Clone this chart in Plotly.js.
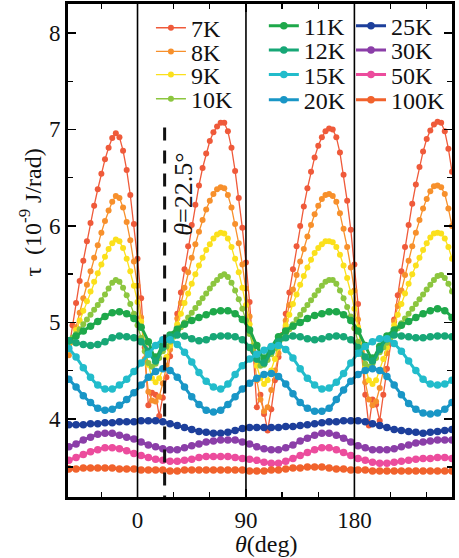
<!DOCTYPE html>
<html>
<head>
<meta charset="utf-8">
<script src="https://cdn.plot.ly/plotly-3.0.1.min.js"></script>
<style>
html,body{margin:0;padding:0;background:#ffffff;}
#chart{width:459px;height:558px;}
</style>
</head>
<body>
<div id="chart"></div>
<script>
// ---------------- DATA ----------------
// angle grid (deg) of the low-temperature scans (dotted curves)
const thetaFine = [-57,-54,-51,-48,-45,-42,-39,-36,-33,-30,-27,-24,-21,-18,-15,-12,-9,-6,-3,0,
  3,6,9,12,15,18,21,24,27,30,33,36,39,42,45,48,51,54,57,60,63,66,69,72,75,78,81,84,87,90,
  93,96,99,102,105,108,111,114,117,120,123,126,129,132,135,138,141,144,147,150,153,156,159,162,165,168,171,174,177,180,
  183,186,189,192,195,198,201,204,207,210,213,216,219,222,225,228,231,234,237,240,243,246,249,252,255,258,261];
// angle grid (deg) of the higher-temperature scans (dense curves)
const thetaCoarse = [-57,-51,-45,-39,-33,-27,-21,-15,-9,-3,3,9,15,21,27,33,39,45,51,57,63,69,75,81,87,
  93,99,105,111,117,123,129,135,141,147,153,159,165,171,177,183,189,195,201,207,213,219,225,231,237,243,249,255,261];

// torque tau (1e-9 J/rad)
const tau7K = [4.72,4.97,5.20,5.43,5.64,5.84,6.03,6.21,6.38,6.54,6.69,6.81,6.91,6.96,6.92,6.78,6.58,6.32,6.02,5.66,
  5.25,4.74,4.14,4.27,4.25,4.03,4.22,4.43,4.65,4.87,5.09,5.31,5.55,5.79,6.01,6.22,6.42,6.60,6.75,6.88,6.97,7.03,7.07,7.07,6.98,6.81,6.57,6.29,5.98,5.62,
  5.21,4.70,4.12,4.25,4.05,3.88,4.10,4.40,4.64,4.87,5.09,5.31,5.55,5.79,6.00,6.20,6.39,6.56,6.71,6.83,6.92,6.98,7.01,7.00,6.92,6.76,6.53,6.26,5.96,5.60,
  5.19,4.68,4.25,3.93,4.20,4.15,3.98,4.25,4.52,4.78,5.03,5.28,5.53,5.78,6.01,6.23,6.43,6.61,6.77,6.90,6.99,7.05,7.08,7.07,6.98,6.80,6.56];
const tau8K = [4.66,4.80,4.95,5.10,5.25,5.39,5.53,5.67,5.80,5.93,6.05,6.16,6.25,6.31,6.29,6.19,6.04,5.85,5.63,5.38,
  5.05,4.62,4.28,4.19,4.18,4.23,4.37,4.55,4.72,4.88,5.04,5.20,5.36,5.52,5.67,5.81,5.94,6.06,6.17,6.26,6.33,6.38,6.40,6.39,6.32,6.19,6.02,5.82,5.60,5.35,
  5.06,4.73,4.40,4.20,4.08,4.12,4.30,4.50,4.68,4.86,5.02,5.18,5.34,5.49,5.63,5.76,5.89,6.01,6.12,6.21,6.28,6.32,6.33,6.31,6.25,6.13,5.97,5.78,5.57,5.33,
  5.03,4.70,4.38,4.20,4.14,4.18,4.32,4.50,4.68,4.85,5.01,5.17,5.33,5.49,5.64,5.79,5.93,6.06,6.18,6.28,6.36,6.41,6.42,6.40,6.33,6.18,6.00];
const tau9K = [4.72,4.82,4.92,5.02,5.12,5.22,5.32,5.42,5.51,5.60,5.68,5.76,5.82,5.86,5.84,5.77,5.66,5.53,5.38,5.21,
  5.01,4.78,4.56,4.42,4.38,4.42,4.52,4.64,4.76,4.87,4.98,5.09,5.20,5.30,5.40,5.50,5.59,5.67,5.75,5.81,5.87,5.91,5.93,5.92,5.87,5.78,5.66,5.52,5.36,5.18,
  4.98,4.76,4.55,4.42,4.36,4.40,4.50,4.62,4.74,4.86,4.97,5.08,5.19,5.29,5.39,5.48,5.57,5.65,5.72,5.77,5.81,5.84,5.84,5.83,5.78,5.70,5.59,5.46,5.31,5.14,
  4.95,4.74,4.54,4.40,4.36,4.40,4.50,4.62,4.74,4.86,4.97,5.08,5.19,5.30,5.40,5.50,5.59,5.67,5.75,5.82,5.88,5.92,5.93,5.92,5.87,5.78,5.66];
const tau10K = [4.80,4.84,4.88,4.93,4.98,5.03,5.08,5.13,5.18,5.23,5.29,5.35,5.41,5.44,5.42,5.36,5.28,5.19,5.09,4.97,
  4.84,4.70,4.58,4.54,4.57,4.63,4.70,4.75,4.80,4.85,4.90,4.95,5.00,5.05,5.10,5.15,5.20,5.25,5.30,5.35,5.40,5.44,5.48,5.50,5.47,5.41,5.33,5.24,5.14,5.02,
  4.88,4.74,4.61,4.55,4.56,4.61,4.67,4.73,4.78,4.83,4.88,4.93,4.98,5.03,5.08,5.13,5.18,5.23,5.28,5.33,5.38,5.42,5.44,5.44,5.40,5.33,5.25,5.16,5.06,4.94,
  4.80,4.67,4.57,4.54,4.57,4.63,4.69,4.74,4.79,4.84,4.89,4.94,4.99,5.04,5.09,5.14,5.19,5.24,5.29,5.34,5.39,5.44,5.48,5.49,5.46,5.40,5.32];
const tau11K = [4.81,4.86,4.91,4.96,5.01,5.06,5.10,5.11,5.09,5.04,4.95,4.80,4.64,4.77,4.87,4.93,4.98,5.02,5.05,5.08,5.11,5.12,5.12,5.09,5.03,
  4.92,4.76,4.63,4.74,4.85,4.91,4.96,5.00,5.04,5.07,5.09,5.11,5.11,5.08,5.02,4.91,4.76,4.63,4.75,4.86,4.92,4.97,5.01,5.05,5.09,5.12,5.14,5.12,5.05];
const tau12K = [4.81,4.79,4.77,4.76,4.77,4.80,4.84,4.86,4.85,4.84,4.80,4.70,4.60,4.74,4.85,4.87,4.86,4.83,4.81,4.82,4.85,4.86,4.86,4.85,4.82,
  4.74,4.62,4.58,4.70,4.80,4.84,4.86,4.85,4.83,4.82,4.83,4.85,4.86,4.85,4.82,4.74,4.64,4.60,4.72,4.83,4.87,4.86,4.85,4.84,4.84,4.85,4.86,4.86,4.85];
const tau15K = [4.73,4.64,4.53,4.43,4.35,4.31,4.31,4.35,4.41,4.49,4.58,4.67,4.76,4.82,4.82,4.77,4.69,4.59,4.48,4.39,4.33,4.31,4.36,4.46,4.55,
  4.62,4.67,4.71,4.75,4.76,4.72,4.63,4.52,4.42,4.35,4.31,4.32,4.38,4.47,4.58,4.68,4.75,4.80,4.83,4.83,4.78,4.70,4.60,4.50,4.41,4.36,4.35,4.36,4.40];
const tau20K = [4.41,4.33,4.24,4.17,4.11,4.09,4.10,4.14,4.20,4.27,4.35,4.43,4.49,4.52,4.50,4.43,4.33,4.23,4.15,4.09,4.07,4.09,4.15,4.23,4.31,
  4.37,4.42,4.46,4.47,4.44,4.36,4.26,4.17,4.11,4.08,4.08,4.11,4.20,4.30,4.39,4.46,4.50,4.52,4.50,4.44,4.35,4.25,4.16,4.10,4.06,4.05,4.06,4.10,4.17];
const tau25K = [3.94,3.94,3.94,3.95,3.95,3.96,3.96,3.97,3.97,3.97,3.98,3.98,3.98,3.97,3.95,3.93,3.91,3.89,3.87,3.86,3.85,3.85,3.86,3.88,3.90,
  3.91,3.91,3.91,3.91,3.91,3.92,3.92,3.93,3.94,3.95,3.96,3.97,3.97,3.98,3.98,3.98,3.97,3.95,3.93,3.91,3.89,3.88,3.87,3.86,3.85,3.86,3.87,3.88,3.89];
const tau30K = [3.71,3.74,3.78,3.81,3.84,3.85,3.85,3.83,3.81,3.79,3.76,3.73,3.71,3.69,3.68,3.68,3.70,3.72,3.74,3.76,3.77,3.78,3.78,3.78,3.76,
  3.74,3.71,3.69,3.68,3.68,3.70,3.73,3.77,3.80,3.83,3.85,3.85,3.83,3.80,3.76,3.72,3.70,3.68,3.68,3.68,3.69,3.71,3.73,3.75,3.76,3.77,3.78,3.78,3.78];
const tau50K = [3.57,3.60,3.63,3.66,3.68,3.70,3.70,3.69,3.67,3.64,3.62,3.60,3.58,3.57,3.56,3.56,3.57,3.58,3.60,3.61,3.61,3.61,3.61,3.60,3.59,
  3.58,3.57,3.55,3.54,3.54,3.56,3.59,3.62,3.65,3.68,3.70,3.70,3.68,3.65,3.62,3.59,3.57,3.55,3.54,3.54,3.55,3.56,3.57,3.58,3.59,3.59,3.60,3.60,3.59];
const tau100K = [3.48,3.48,3.49,3.49,3.49,3.49,3.49,3.48,3.48,3.48,3.47,3.47,3.47,3.47,3.46,3.46,3.47,3.47,3.47,3.47,3.47,3.47,3.47,3.47,3.47,
  3.46,3.46,3.46,3.47,3.47,3.48,3.49,3.49,3.50,3.50,3.50,3.49,3.48,3.48,3.47,3.47,3.47,3.46,3.46,3.46,3.46,3.46,3.46,3.46,3.46,3.46,3.46,3.46,3.46];

const seriesNames = ['7K','8K','9K','10K','11K','12K','15K','20K','25K','30K','50K','100K'];
const seriesValues = [tau7K,tau8K,tau9K,tau10K,tau11K,tau12K,tau15K,tau20K,tau25K,tau30K,tau50K,tau100K];
const xTickVals = [0,90,180];
const xTickText = ['0','90','180'];
const yTickVals = [4,5,6,7,8];
const yTickText = ['4','5','6','7','8'];
const markerAngle = 22.5;     // dashed marker line position (deg)
const markerTop = 7.02;       // top of the dashed marker line (tau)
const guideAngles = [0,90,180];

// ---------------- STYLE ----------------
const colors = ['#ef5a3a','#f7902c','#fbe01c','#8cc63f','#1ea84a','#17a776','#22bccb','#1996c6','#1d3f9b','#8b3ea8','#ec4c9d','#f1622c'];
const FONT = "'Liberation Serif', 'DejaVu Serif', serif";
// legend cell placement (paper coords): column x, row y (centre)
const legCol = [0.216, 0.216, 0.216, 0.216, 0.510, 0.510, 0.510, 0.510, 0.737, 0.737, 0.737, 0.737];
const legRow = [0.951, 0.903, 0.856, 0.807, 0.955, 0.906, 0.856, 0.805, 0.955, 0.906, 0.856, 0.805];

const legendKey = i => (i === 0 ? 'legend' : 'legend' + (i + 1));

const traces = seriesNames.map((name, i) => {
  const dotted = i < 4;
  return {
    type: 'scatter',
    mode: 'lines+markers',
    name: name,
    legend: legendKey(i),
    x: dotted ? thetaFine : thetaCoarse,
    y: seriesValues[i],
    line: {color: colors[i], width: dotted ? 1.3 : 3, shape: dotted ? 'linear' : 'spline', smoothing: 1},
    marker: {color: colors[i], size: dotted ? 6 : 7.5, symbol: 'circle'},
    cliponaxis: true
  };
});

const shapes = guideAngles.map(a => ({
  type: 'line', xref: 'x', yref: 'paper', x0: a, x1: a, y0: 0, y1: 1,
  line: {color: '#000', width: 1.6}, layer: 'above'
}));
shapes.push({
  type: 'line', xref: 'x', yref: 'y', x0: markerAngle, x1: markerAngle, y0: markerTop, y1: 3.19,
  line: {color: '#111', width: 3, dash: '13px,10px'}, layer: 'above'
});

const layout = {
  width: 459, height: 558,
  margin: {l: 68, r: 7, t: 4, b: 61},
  paper_bgcolor: '#ffffff', plot_bgcolor: '#ffffff',
  font: {family: FONT, size: 22, color: '#111'},
  showlegend: true,
  xaxis: {
    range: [-57.7, 261], tickmode: 'array', tickvals: xTickVals, ticktext: xTickText,
    ticks: 'inside', ticklen: 8, tickwidth: 1.5, tickcolor: '#000',
    minor: {tickmode: 'linear', tick0: 0, dtick: 30, ticks: 'inside', ticklen: 5, tickwidth: 1.3, tickcolor: '#000'},
    showline: true, linewidth: 3, linecolor: '#000', mirror: 'allticks',
    showgrid: false, zeroline: false,
    tickfont: {family: FONT, size: 23, color: '#111'}
  },
  yaxis: {
    range: [3.19, 8.30], tickmode: 'array', tickvals: yTickVals, ticktext: yTickText,
    ticks: 'inside', ticklen: 8, tickwidth: 1.5, tickcolor: '#000',
    minor: {tickmode: 'linear', tick0: 0, dtick: 0.5, ticks: 'inside', ticklen: 5, tickwidth: 1.3, tickcolor: '#000'},
    showline: true, linewidth: 3, linecolor: '#000', mirror: 'allticks',
    showgrid: false, zeroline: false,
    tickfont: {family: FONT, size: 23, color: '#111'}
  },
  shapes: shapes,
  annotations: [
    {xref: 'paper', yref: 'paper', x: -0.099, y: 0.577, xanchor: 'center', yanchor: 'middle',
     textangle: -90, showarrow: false, text: 'τ  (10<sup>-9</sup> J/rad)', font: {family: FONT, size: 24, color: '#111'}},
    {xref: 'paper', yref: 'paper', x: 0.515, y: -0.0953, xanchor: 'center', yanchor: 'middle',
     showarrow: false, text: '<i>θ</i>(deg)', font: {family: FONT, size: 24, color: '#111'}},
    {xref: 'x', yref: 'paper', x: 22.5 + 16, y: 0.615, xanchor: 'center', yanchor: 'middle',
     textangle: -90, showarrow: false, text: '<i>θ</i>=22.5°', font: {family: FONT, size: 26, color: '#111'}}
  ]
};

seriesNames.forEach((n, i) => {
  layout[legendKey(i)] = {
    x: legCol[i], y: legRow[i], xanchor: 'left', yanchor: 'middle',
    bgcolor: 'rgba(0,0,0,0)', borderwidth: 0,
    font: {family: FONT, size: 24, color: '#111'}
  };
});

Plotly.newPlot('chart', traces, layout, {staticPlot: true, displayModeBar: false});
</script>
</body>
</html>
